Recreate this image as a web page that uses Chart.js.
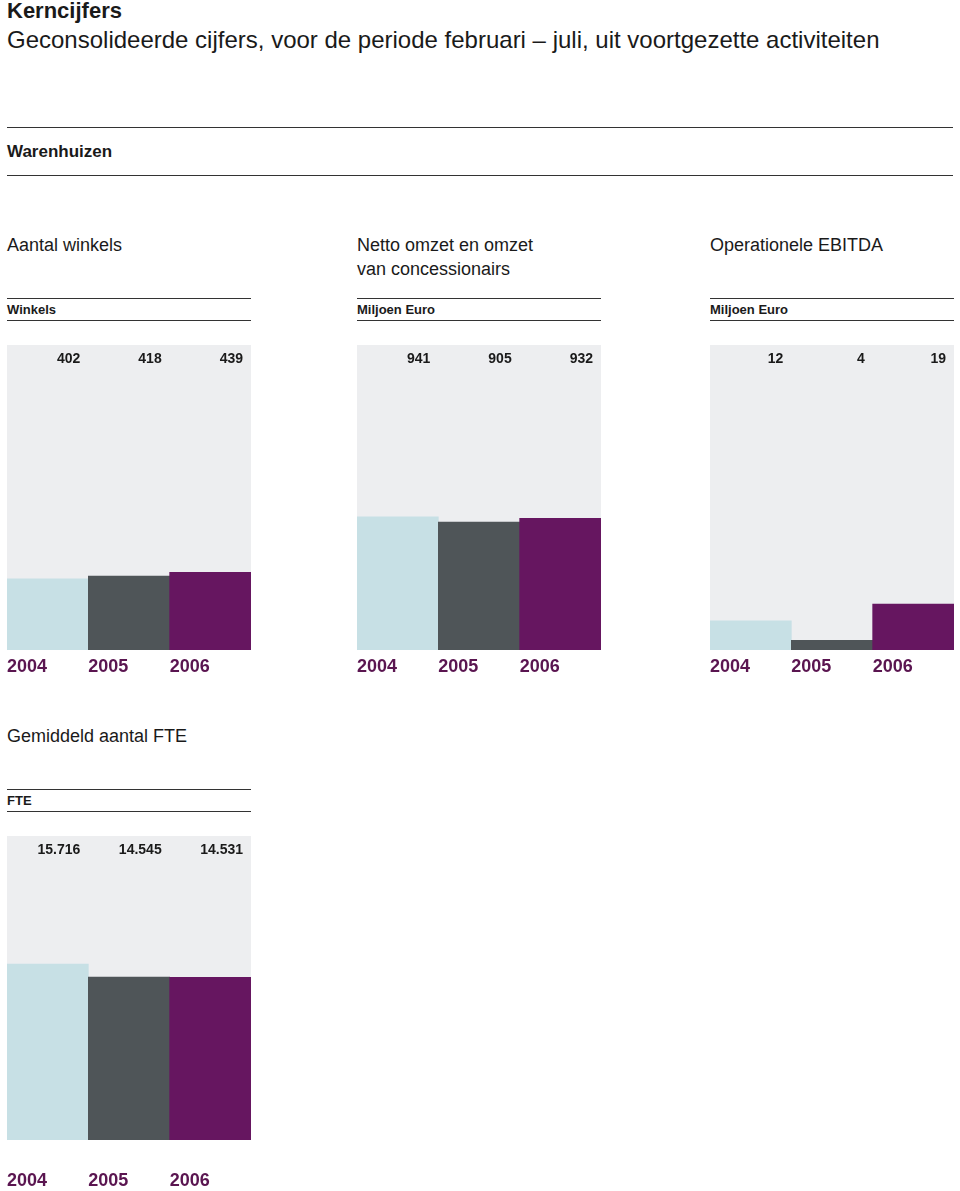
<!DOCTYPE html>
<html>
<head>
<meta charset="utf-8">
<script src="https://cdn.jsdelivr.net/npm/chart.js@4/dist/chart.umd.min.js"></script>
<style>
  body { margin: 0; background: #fff; font-family: "Liberation Sans", Arial, sans-serif; color: #1a1a1a; }
  #page { position: relative; width: 960px; height: 1191px; overflow: hidden; }
  .abs { position: absolute; white-space: nowrap; }
  .rule { position: absolute; height: 0; border-top: 1.5px solid #333; }
  .title { left: 7px; top: -2px; font-size: 22px; font-weight: bold; }
  .sub { left: 7px; top: 26px; font-size: 24px; }
  .sect { font-size: 17px; font-weight: bold; }
  .ptitle { font-size: 18px; line-height: 24px; }
  .unit { font-size: 13px; font-weight: bold; }
  canvas { position: absolute; }
</style>
</head>
<body>
<div id="page">
  <div class="abs title">Kerncijfers</div>
  <div class="abs sub">Geconsolideerde cijfers, voor de periode februari – juli, uit voortgezette activiteiten</div>
  <div class="rule" style="left:7px;top:127px;width:946px"></div>
  <div class="abs sect" style="left:7px;top:142px">Warenhuizen</div>
  <div class="rule" style="left:7px;top:175px;width:946px"></div>

  <div class="abs ptitle" style="left:7px;top:233px">Aantal winkels</div>
  <div class="abs ptitle" style="left:357px;top:233px">Netto omzet en omzet<br>van concessionairs</div>
  <div class="abs ptitle" style="left:710px;top:233px">Operationele EBITDA</div>
  <div class="abs ptitle" style="left:7px;top:724px">Gemiddeld aantal FTE</div>

  <div class="rule" style="left:7px;top:298px;width:244px"></div>
  <div class="abs unit" style="left:7px;top:302px">Winkels</div>
  <div class="rule" style="left:7px;top:320px;width:244px"></div>
  <div class="rule" style="left:357px;top:298px;width:244px"></div>
  <div class="abs unit" style="left:357px;top:302px">Miljoen Euro</div>
  <div class="rule" style="left:357px;top:320px;width:244px"></div>
  <div class="rule" style="left:710px;top:298px;width:244px"></div>
  <div class="abs unit" style="left:710px;top:302px">Miljoen Euro</div>
  <div class="rule" style="left:710px;top:320px;width:244px"></div>
  <div class="rule" style="left:7px;top:789px;width:244px"></div>
  <div class="abs unit" style="left:7px;top:793px">FTE</div>
  <div class="rule" style="left:7px;top:811px;width:244px"></div>

  <canvas id="c1" width="244" height="340" style="left:7px;top:345px"></canvas>
  <canvas id="c2" width="244" height="340" style="left:357px;top:345px"></canvas>
  <canvas id="c3" width="244" height="340" style="left:710px;top:345px"></canvas>
  <canvas id="c4" width="244" height="355" style="left:7px;top:836px"></canvas>
</div>
<script>
const years = ['2004', '2005', '2006'];
const winkels = [402, 418, 439];
const omzet = [941, 905, 932];
const ebitda = [12, 4, 19];
const fte = [15716, 14545, 14531];
const fteLabels = ['15.716', '14.545', '14.531'];
const barColors = ['#c7e0e5', '#4f5558', '#661660'];
const panelBg = '#edeef0';
const yearColor = '#5a1550';

// panel background, value labels on top, years below
const panelPlugin = {
    id: 'panel',
    beforeDraw(chart) {
        const a = chart.chartArea;
        const c = chart.ctx;
        c.save();
        c.fillStyle = panelBg;
        c.fillRect(a.left, a.top, a.right - a.left, a.bottom - a.top);
        c.restore();
    },
    afterDraw(chart, args, opts) {
        const a = chart.chartArea;
        const c = chart.ctx;
        const bars = chart.getDatasetMeta(0).data;
        c.save();
        c.textBaseline = 'middle';
        bars.forEach((bar, i) => {
            const left = bar.x - bar.width / 2;
            const right = bar.x + bar.width / 2;
            c.font = 'bold 14px "Liberation Sans", Arial, sans-serif';
            c.fillStyle = '#1a1a1a';
            c.textAlign = 'right';
            c.fillText(opts.labels[i], right - 8, a.top + 14);
            c.font = 'bold 18px "Liberation Sans", Arial, sans-serif';
            c.fillStyle = yearColor;
            c.textAlign = 'left';
            c.fillText(years[i], left, a.bottom + opts.yearGap);
        });
        c.restore();
    }
};

function makeChart(id, values, labels, yMax, padBottom, yearGap) {
    return new Chart(document.getElementById(id), {
        type: 'bar',
        data: {
            labels: years,
            datasets: [{
                data: values,
                backgroundColor: barColors,
                borderWidth: 0,
                categoryPercentage: 1,
                barPercentage: 1
            }]
        },
        options: {
            responsive: false,
            animation: false,
            devicePixelRatio: 1,
            layout: { padding: { left: 0, right: 0, top: 0, bottom: padBottom } },
            plugins: {
                legend: { display: false },
                tooltip: { enabled: false },
                panel: { labels: labels, yearGap: yearGap }
            },
            scales: {
                x: { display: false },
                y: { display: false, min: 0, max: yMax }
            }
        },
        plugins: [panelPlugin]
    });
}

makeChart('c1', winkels, winkels.map(String), 1725, 35, 17);
makeChart('c2', omzet, omzet.map(String), 2157, 35, 17);
makeChart('c3', ebitda, ebitda.map(String), 126, 35, 17);
makeChart('c4', fte, fteLabels, 27140, 51, 41);
</script>
</body>
</html>
